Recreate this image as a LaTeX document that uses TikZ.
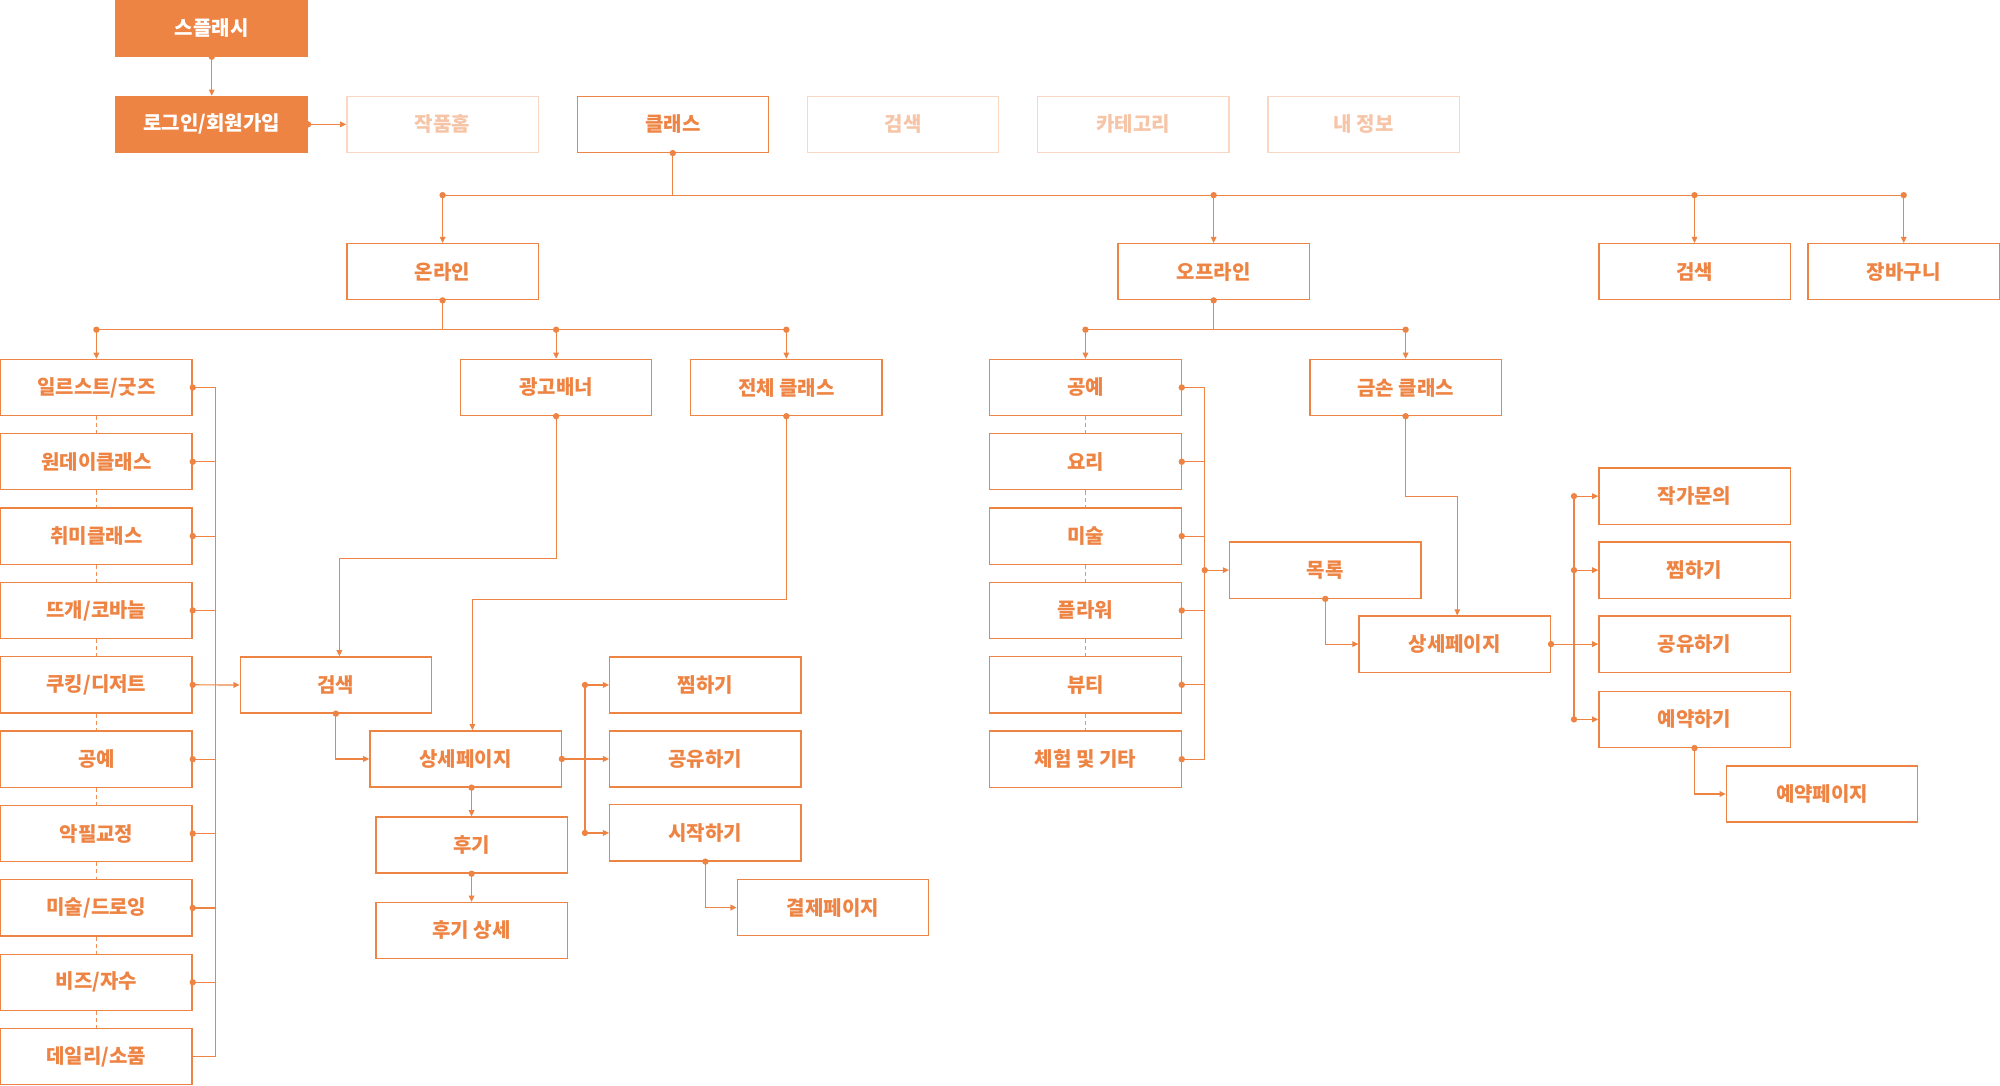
\documentclass[tikz,border=0pt]{standalone}
\usepackage{fontspec}
\setmainfont{Noto Sans CJK KR}
\usetikzlibrary{arrows.meta,calc}
\definecolor{orC}{HTML}{EE8444}
\definecolor{fadeL}{HTML}{F9D7C3}
\definecolor{fadeT}{HTML}{F6C4A6}
\newcommand\dotat[1]{\fill[orC] #1 circle (1.25pt);}
\begin{document}
\begin{tikzpicture}[x=0.5pt,y=-0.5pt,
 stbox/.style={draw=orC,line width=0.5pt,minimum width=75pt,minimum height=22pt,inner sep=0pt,text=orC,font=\bfseries\fontsize{7.85}{9}\selectfont},
 filledbox/.style={stbox,fill=orC,text=white},
 gbox/.style={stbox,draw=fadeL,text=fadeT},
 ln/.style={draw=orC,line width=0.47pt},
 arr/.style={ln,-{Triangle[length=2.4pt,width=2.2pt]}},
 dsh/.style={draw=orC!90,line width=0.5pt,dash pattern=on 1.6pt off 1.2pt}]
\useasboundingbox (0,0) rectangle (1568,851.4);

% top row
\node[filledbox] (splash) at (166,22) {스플래시};
\node[filledbox] (login) at (166,97.5) {로그인/회원가입};
\node[gbox] (works) at (347,97.5) {작품홈};
\node[stbox] (cls) at (527.5,97.5) {클래스};
\node[gbox] (gs) at (708,97.5) {검색};
\node[gbox] (cat) at (888.5,97.5) {카테고리};
\node[gbox] (me) at (1069,97.5) {내 정보};

% second row
\node[stbox] (online) at (347,213) {온라인};
\node[stbox] (offline) at (951.5,213) {오프라인};
\node[stbox] (srch) at (1328.5,213) {검색};
\node[stbox] (cart) at (1492.5,213) {장바구니};

% online branch
\node[stbox] (ad) at (436,303.8) {광고배너};
\node[stbox] (all) at (616.5,303.8) {전체 클래스};
\node[stbox] (L0) at (75.6,303.8) {일르스트/굿즈};
\node[stbox] (L1) at (75.6,362) {원데이클래스};
\node[stbox] (L2) at (75.6,420.3) {취미클래스};
\node[stbox] (L3) at (75.6,478.6) {뜨개/코바늘};
\node[stbox] (L4) at (75.6,536.9) {쿠킹/디저트};
\node[stbox] (L5) at (75.6,595.2) {공예};
\node[stbox] (L6) at (75.6,653.5) {악필교정};
\node[stbox] (L7) at (75.6,711.8) {미술/드로잉};
\node[stbox] (L8) at (75.6,770.1) {비즈/자수};
\node[stbox] (L9) at (75.6,828.4) {데일리/소품};

\node[stbox] (srch2) at (263.3,537) {검색};
\node[stbox] (detail) at (365,595) {상세페이지};
\node[stbox] (review) at (369.7,662.5) {후기};
\node[stbox] (revdet) at (369.7,729.5) {후기 상세};
\node[stbox] (zzim1) at (553,537) {찜하기};
\node[stbox] (share1) at (553,595) {공유하기};
\node[stbox] (start) at (553,653) {시작하기};
\node[stbox] (pay) at (653,711.5) {결제페이지};

% offline branch
\node[stbox] (O0) at (851,303.8) {공예};
\node[stbox] (O1) at (851,362) {요리};
\node[stbox] (O2) at (851,420.3) {미술};
\node[stbox] (O3) at (851,478.6) {플라워};
\node[stbox] (O4) at (851,536.9) {뷰티};
\node[stbox] (O5) at (851,595.2) {체험 및 기타};
\node[stbox] (gold) at (1102,303.8) {금손 클래스};
\node[stbox] (list) at (1039,447) {목록};
\node[stbox] (detail2) at (1140.5,505) {상세페이지};
\node[stbox] (inq) at (1328.5,389) {작가문의};
\node[stbox] (zzim2) at (1328.5,447) {찜하기};
\node[stbox] (share2) at (1328.5,505) {공유하기};
\node[stbox] (book) at (1328.5,564) {예약하기};
\node[stbox] (bookpg) at (1428.5,622.5) {예약페이지};

% ---------- connectors ----------
\draw[arr] (splash.south) -- (login.north);
\dotat{(splash.south)}
\draw[arr] (login.east) -- (works.west);
\dotat{(login.east)}

% class bus
\draw[ln] (cls.south) -- (cls.south |- 0,153);
\draw[ln] (online.north |- 0,153) -- (cart.north |- 0,153);
\foreach \n in {online,offline,srch,cart}{
  \draw[arr] (\n.north |- 0,153) -- (\n.north);
  \dotat{(\n.north |- 0,153)}
}
\dotat{(cls.south)}

% online bus
\draw[ln] (online.south) -- (online.south |- 0,258.5);
\draw[ln] (L0.north |- 0,258.5) -- (all.north |- 0,258.5);
\foreach \n in {L0,ad,all}{
  \draw[arr] (\n.north |- 0,258.5) -- (\n.north);
  \dotat{(\n.north |- 0,258.5)}
}
\dotat{(online.south)}

% left column
\foreach \a/\b in {L0/L1,L1/L2,L2/L3,L3/L4,L4/L5,L5/L6,L6/L7,L7/L8,L8/L9}{
  \draw[dsh] (\a.south) -- (\b.north);
}
\draw[ln] (L0.east -| 169,0) -- (L9.east -| 169,0);
\draw[ln] (L9.east) -- (L9.east -| 169,0);
\foreach \n in {L0,L1,L2,L3,L5,L6,L7,L8}{
  \draw[ln] (\n.east) -- (\n.east -| 169,0);
  \dotat{(\n.east)}
}
\draw[arr] (L4.east) -- (srch2.west);
\dotat{(L4.east)}

% ad banner -> search
\coordinate (s2top) at ([xshift=1.4pt]srch2.north);
\draw[arr] (ad.south) |- (s2top |- 0,438) -- (s2top);
\dotat{(ad.south)}
% all classes -> detail
\coordinate (dtop) at ([xshift=2.65pt]detail.north);
\draw[arr] (all.south) |- (dtop |- 0,470) -- (dtop);
\dotat{(all.south)}
% search -> detail
\draw[arr] (srch2.south) |- (detail.west);
\dotat{(srch2.south)}
% detail -> review -> review detail
\draw[arr] (review.north |- detail.south) -- (review.north);
\dotat{(review.north |- detail.south)}
\draw[arr] (review.south) -- (revdet.north);
\dotat{(review.south)}
% detail -> actions
\draw[ln] (zzim1.west -| 458.6,0) -- (start.west -| 458.6,0);
\draw[arr] (detail.east) -- (share1.west);
\draw[arr] (zzim1.west -| 458.6,0) -- (zzim1.west);
\draw[arr] (start.west -| 458.6,0) -- (start.west);
\dotat{(detail.east)}
\dotat{(zzim1.west -| 458.6,0)}
\dotat{(start.west -| 458.6,0)}
% start -> payment
\draw[arr] (start.south) |- (pay.west);
\dotat{(start.south)}

% offline bus
\draw[ln] (offline.south) -- (offline.south |- 0,258.5);
\draw[ln] (O0.north |- 0,258.5) -- (gold.north |- 0,258.5);
\foreach \n in {O0,gold}{
  \draw[arr] (\n.north |- 0,258.5) -- (\n.north);
  \dotat{(\n.north |- 0,258.5)}
}
\dotat{(offline.south)}

% offline column
\foreach \a/\b in {O0/O1,O1/O2,O2/O3,O3/O4,O4/O5}{
  \draw[dsh] (\a.south) -- (\b.north);
}
\draw[ln] (O0.east -| 944.5,0) -- (O5.east -| 944.5,0);
\foreach \n in {O0,O1,O2,O3,O4,O5}{
  \draw[ln] (\n.east) -- (\n.east -| 944.5,0);
  \dotat{(\n.east)}
}
\draw[arr] (list.west -| 944.5,0) -- (list.west);
\dotat{(list.west -| 944.5,0)}

% list -> detail2
\draw[arr] (list.south) |- (detail2.west);
\dotat{(list.south)}
% gold -> detail2
\coordinate (d2top) at ([xshift=1pt]detail2.north);
\draw[arr] (gold.south) |- (d2top |- 0,389.5) -- (d2top);
\dotat{(gold.south)}

% detail2 -> actions
\draw[ln] (inq.west -| 1234,0) -- (book.west -| 1234,0);
\draw[arr] (detail2.east) -- (share2.west);
\foreach \n in {inq,zzim2,book}{
  \draw[arr] (\n.west -| 1234,0) -- (\n.west);
  \dotat{(\n.west -| 1234,0)}
}
\dotat{(detail2.east)}
% book -> booking page
\draw[arr] (book.south) |- (bookpg.west);
\dotat{(book.south)}
\end{tikzpicture}
\end{document}
